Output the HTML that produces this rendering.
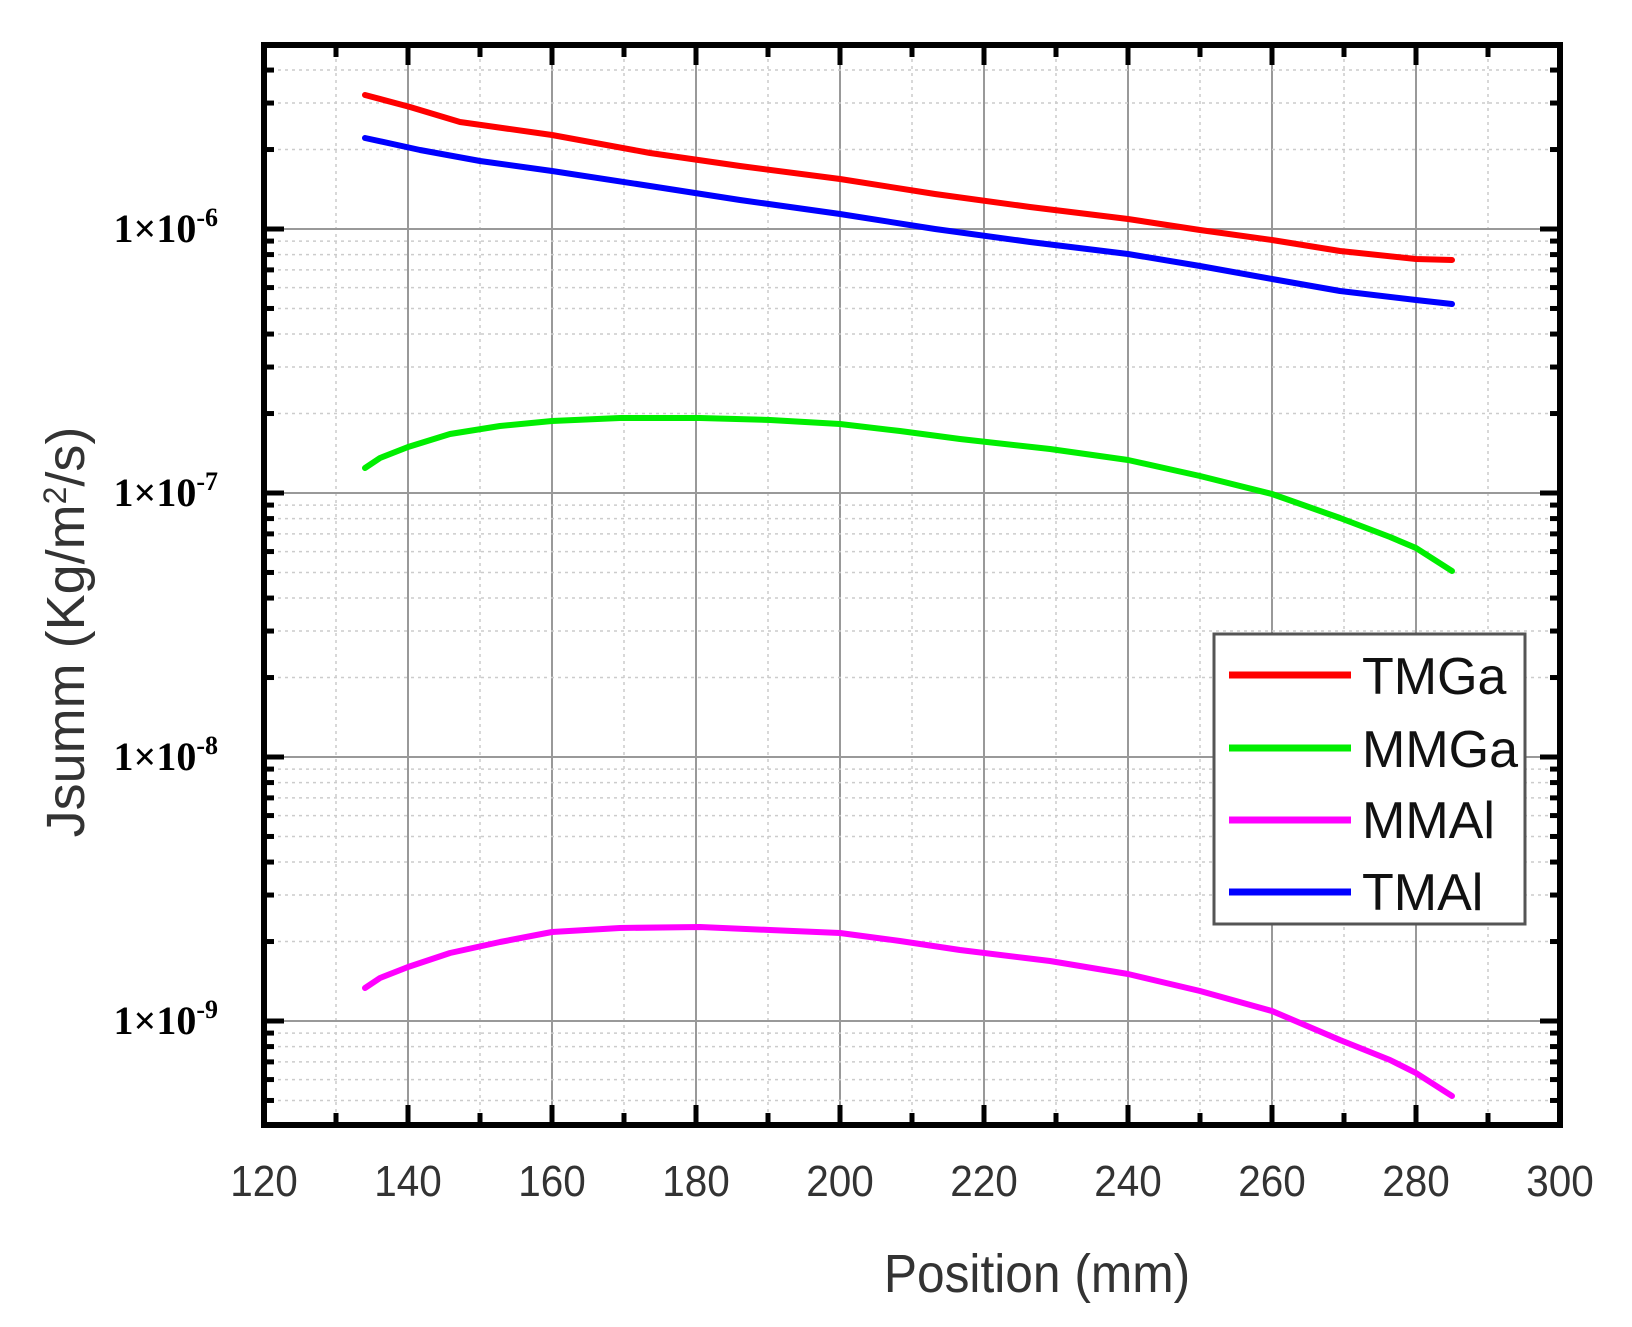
<!DOCTYPE html>
<html><head><meta charset="utf-8"><style>body{margin:0;background:#fff}svg{display:block}</style></head><body>
<svg width="1632" height="1327" xmlns="http://www.w3.org/2000/svg" font-family="Liberation Sans, sans-serif">
<rect width="1632" height="1327" fill="#fff"/>
<g id="grid"></g>
<g fill="none" stroke-width="6" stroke-linejoin="round" stroke-linecap="round">
<polyline stroke="#ff0000" points="365,95 410,107 460,122 552,135 650,153 740,166 840,179 935,194 1030,207 1128,219 1200,230 1272,240 1340,251 1416,259 1452,260"/>
<polyline stroke="#0000ff" points="365,138 420,150 480,161 552,171 650,186 740,200 840,214 935,229 1030,242 1128,254 1200,266 1272,279 1340,291 1416,300 1452,304"/>
<polyline stroke="#00ee00" points="365,468 380,458 408,447 450,434 500,426 552,421 620,418 700,418 770,420 840,424 900,431 960,439 1050,449 1128,460 1200,476 1272,494 1340,518 1390,537 1416,548 1452,571"/>
<polyline stroke="#ff00ff" points="365,988 380,978 408,967 450,953 500,942 552,932 620,928 700,927 770,930 840,933 900,941 960,950 1050,961 1128,974 1200,991 1272,1011 1340,1040 1390,1060 1416,1073 1452,1096"/>
</g>
<rect x="264" y="45" width="1296" height="1080" fill="none" stroke="#000" stroke-width="6"/>
<g id="ticks"></g>
<rect x="1214" y="634" width="311" height="290" fill="#fff" stroke="#555" stroke-width="3"/>
<g stroke-width="7"><line x1="1229" y1="675" x2="1351" y2="675" stroke="#ff0000"/><line x1="1229" y1="748" x2="1351" y2="748" stroke="#00ee00"/><line x1="1229" y1="820" x2="1351" y2="820" stroke="#ff00ff"/><line x1="1229" y1="892" x2="1351" y2="892" stroke="#0000ff"/></g>
<g font-size="52" fill="#111"><text x="1362" y="694">TMGa</text><text x="1362" y="767">MMGa</text><text x="1362" y="838">MMAl</text><text x="1362" y="910">TMAl</text></g>
<g font-size="44" fill="#333" text-anchor="middle" id="xl" transform="scale(0.92,1)"></g>
<g font-family="Liberation Serif, serif" font-size="40" font-weight="bold" fill="#000" text-anchor="end">
<text x="218" y="242">1×10<tspan dy="-16" font-size="26">-6</tspan></text>
<text x="218" y="506">1×10<tspan dy="-16" font-size="26">-7</tspan></text>
<text x="218" y="770">1×10<tspan dy="-16" font-size="26">-8</tspan></text>
<text x="218" y="1034">1×10<tspan dy="-16" font-size="26">-9</tspan></text>
</g>
<text transform="translate(1037,1292) scale(0.92,1)" font-size="54" fill="#333" text-anchor="middle">Position (mm)</text>
<text transform="translate(84,632) rotate(-90)" font-size="54" fill="#333" text-anchor="middle">Jsumm (Kg/m<tspan dy="-18" font-size="32">2</tspan><tspan dy="18">/s)</tspan></text>
<script>
var ns="http://www.w3.org/2000/svg",g=document.getElementById('grid'),t=document.getElementById('ticks'),xl=document.getElementById('xl');
function L(p,a,b,c,d,s,w,da){var l=document.createElementNS(ns,'line');l.setAttribute('x1',a);l.setAttribute('y1',b);l.setAttribute('x2',c);l.setAttribute('y2',d);l.setAttribute('stroke',s);l.setAttribute('stroke-width',w);if(da)l.setAttribute('stroke-dasharray',da);p.appendChild(l);}
for(var i=0;i<=18;i++){var x=264+i*72;var maj=i%2==0;
 if(i>0&&i<18){if(maj)L(g,x,45,x,1125,'#999',2);else L(g,x,45,x,1125,'#ccc',1.5,'3,4');}
 L(t,x,1125,x,1125-(maj?20:12),'#000',5);L(t,x,45,x,45+(maj?20:12),'#000',5);
 if(maj){var tx=document.createElementNS(ns,'text');tx.setAttribute('x',x/0.92);tx.setAttribute('y',1196);tx.textContent=120+i*10;xl.appendChild(tx);}}
for(var d=-10;d<=-6;d++){for(var m=1;m<10;m++){var y=229-(d+6+Math.log10(m))*264;if(y<46||y>1124)continue;
 if(m==1)L(g,264,y,1560,y,'#999',2);else L(g,264,y,1560,y,'#ccc',1.5,'3,4');
 var len=m==1?20:10;L(t,264,y,264+len,y,'#000',5);L(t,1560,y,1560-len,y,'#000',5);}}
</script>
</svg>
</body></html>
